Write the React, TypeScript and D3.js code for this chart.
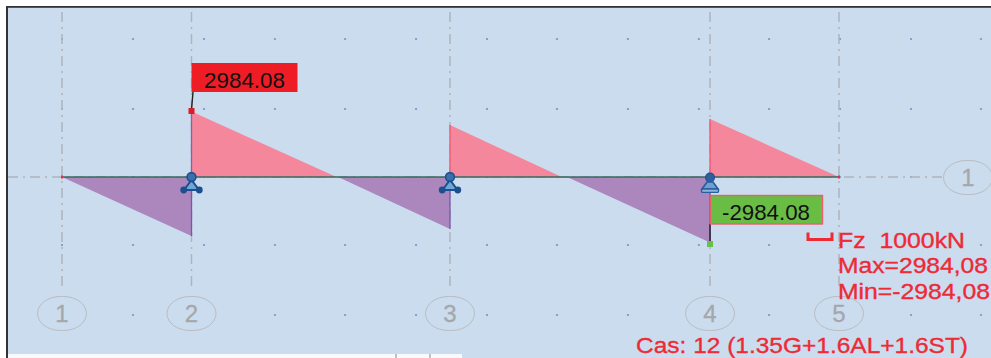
import React from "react";
import * as d3 from "d3";

const gridNames = ["1", "2", "3", "4", "5"];
const gridMetres = [0, 5, 14.98, 25.02, 30];
const positiveParts: [number, number, number][] = [
  [5, 2984.08, 10.6],
  [14.98, 2370, 19.3],
  [25.02, 2640, 30],
];
const negativeParts: [number, number, number][] = [
  [0, -2690, 5],
  [10.66, -2370, 14.98],
  [19.5, -2984.08, 25.02],
];
const dotMetres = [0, 2.74, 5.48, 8.22, 10.93, 13.67, 16.41, 19.11, 21.85, 24.59, 27.3, 30.04, 32.78, 35.48];
const dotValues = [6287, 3098, 0, -3098, -6287];
const maxLabel = "2984.08";
const minLabel = "-2984.08";
const legendLines = [
  { text: "Fz  1000kN", x: 838, y: 247.5, w: 127 },
  { text: "Max=2984,08", x: 838, y: 273, w: 150 },
  { text: "Min=-2984,08", x: 838, y: 298.5, w: 152 },
];
const caseLabel = "Cas: 12 (1.35G+1.6AL+1.6ST)";

const W = 991;
const H = 358;
const x = d3.scaleLinear().domain([0, 30]).range([62, 839]);
const y = d3.scaleLinear().domain([-2984.08, 2984.08]).range([242.5, 111.5]);
const line = d3.line<[number, number]>().x((d) => x(d[0])).y((d) => y(d[1]));

const BG = "#cbdcef";
const GRID = "#aeb4bc";
const DARK = "#1d4f8f";
const RED = "#ee2a35";
const FONT = "'Liberation Sans', Arial, sans-serif";

function Bubble({ cx, cy, label }: { cx: number; cy: number; label: string }) {
  return (
    <g>
      <rect x={cx - 24.5} y={cy - 17} width={49} height={34} rx={23} ry={17} fill={BG} stroke="#b9bcc0" strokeWidth={1} />
      <text x={cx} y={cy + 8.5} textAnchor="middle" fontFamily={FONT} fontSize={24} fill="#a5a7aa" stroke="#a5a7aa" strokeWidth={0.3}>{label}</text>
    </g>
  );
}

export default function App() {
  const y0 = y(0);
  return (
    <svg width={W} height={H} viewBox={`0 0 ${W} ${H}`} style={{ position: "absolute", left: 0, top: 0, background: "#fff" }}>
      <rect x={7} y={7} width={W - 7} height={H - 7} fill={BG} />
      <rect x={6} y={6} width={W - 6} height={1.8} fill="#333" />
      <rect x={6} y={6} width={2} height={H - 6} fill="#333" />
      <rect x={8} y={354} width={454} height={4} fill="#f7f9fc" />
      <line x1={396} x2={396} y1={354} y2={358} stroke="#888" />
      <line x1={430} x2={430} y1={354} y2={358} stroke="#888" />

      {dotValues.map((v) => dotMetres.map((m) => (
        <rect key={`${v}-${m}`} x={x(m) - 1} y={y(v) - 0.8} width={2} height={1.6} fill="#6f7fc4" opacity={0.85} />
      )))}

      {gridMetres.map((m) => (
        <line key={m} x1={x(m)} x2={x(m)} y1={12} y2={288} stroke={GRID} strokeWidth={1.5} strokeDasharray="10 5 2 5" />
      ))}
      <line x1={8} x2={943} y1={y0} y2={y0} stroke={GRID} strokeWidth={1.3} strokeDasharray="10 5 2 5" />

      {positiveParts.map(([a, v, b]) => (
        <g key={a}>
          <path d={line([[a, 0], [a, v], [b, 0]]) + "Z"} fill="#f4879b" />
          <path d={line([[a, 0], [a, v]]) ?? ""} stroke={a === 5 ? "#8a5fb0" : "#f0566f"} strokeWidth={1.3} fill="none" />
        </g>
      ))}
      {negativeParts.map(([a, v, b]) => (
        <g key={a}>
          <path d={line([[a, 0], [b, v], [b, 0]]) + "Z"} fill="#ab87bd" />
          <path d={line([[b, 0], [b, v]]) ?? ""} stroke="#7a55ab" strokeWidth={1.3} fill="none" />
        </g>
      ))}
      <line x1={x(0)} x2={x(30)} y1={y0} y2={y0} stroke="#37685f" strokeWidth={1.6} />
      <rect x={x(0) - 1} y={y0 - 1.5} width={2} height={3} fill="#e0304a" />
      <rect x={x(30) - 1} y={y0 - 1.5} width={2} height={3} fill="#e0304a" />

      {gridNames.map((n, i) => (
        <Bubble key={n} cx={x(gridMetres[i])} cy={313.5} label={n} />
      ))}
      <Bubble cx={968} cy={177.5} label="1" />

      {[x(5), x(14.98)].map((cx) => (
        <g key={cx}>
          <path d={`M${cx},${y0 + 3} L${cx - 7.5},${y0 + 13} L${cx + 7.5},${y0 + 13} Z`} fill="#6ea6d8" stroke={DARK} strokeWidth={2} />
          <circle cx={cx} cy={y0} r={4.4} fill="#3a6fae" stroke={DARK} strokeWidth={1.6} />
          <circle cx={cx - 7.8} cy={y0 + 13} r={3.4} fill={DARK} />
          <circle cx={cx + 7.8} cy={y0 + 13} r={3.4} fill={DARK} />
        </g>
      ))}
      <g>
        <circle cx={x(25.02)} cy={y0 + 0.5} r={4.4} fill="#2f5f9f" stroke={DARK} strokeWidth={1.2} />
        <path d={`M${x(25.02) - 3},${y0 + 5} L${x(25.02) + 3},${y0 + 5} L${x(25.02) + 8},${y0 + 12} L${x(25.02) - 8},${y0 + 12} Z`} fill="#6f9fd0" stroke="#2a5f9f" strokeWidth={1.7} />
        <rect x={x(25.02) - 8.5} y={y0 + 12} width={17} height={3.4} rx={1.2} fill="#8db4dc" stroke="#2a5f9f" strokeWidth={1.4} />
      </g>

      <line x1={193} x2={191.5} y1={92} y2={110} stroke="#222" strokeWidth={1.4} />
      <rect x={188.5} y={108} width={6} height={6} fill="#dd1c28" />
      <rect x={191.5} y={63} width={106} height={29} fill="#ee1c25" />
      <text x={204} y={87.5} fontFamily={FONT} fontSize={22} fill="#111" textLength={81} lengthAdjust="spacingAndGlyphs">{maxLabel}</text>

      <line x1={x(25.02)} x2={x(25.02)} y1={224} y2={243} stroke="#222" strokeWidth={1.4} />
      <rect x={x(25.02) - 3} y={241} width={6} height={6} fill="#67c04a" />
      <rect x={710.5} y={195.5} width={112} height={28.5} fill="#69bd45" stroke="#ea5f6c" strokeWidth={1.4} />
      <text x={722} y={219.5} fontFamily={FONT} fontSize={22} fill="#111" textLength={88} lengthAdjust="spacingAndGlyphs">{minLabel}</text>

      <path d="M808,232.5 V239.5 H832 V232.5" fill="none" stroke={RED} strokeWidth={3} />
      {legendLines.map((l) => (
        <text key={l.text} x={l.x} y={l.y} fontFamily={FONT} fontSize={22} fill={RED} stroke={RED} strokeWidth={0.35} xmlSpace="preserve" textLength={l.w} lengthAdjust="spacingAndGlyphs">{l.text}</text>
      ))}
      <text x={636} y={352.5} fontFamily={FONT} fontSize={22} fill={RED} stroke={RED} strokeWidth={0.35} textLength={332} lengthAdjust="spacingAndGlyphs">{caseLabel}</text>
    </svg>
  );
}
